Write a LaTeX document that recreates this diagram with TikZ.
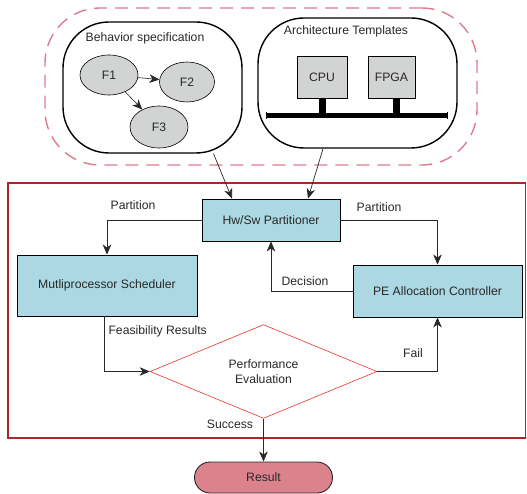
\documentclass[tikz,border=0pt]{standalone}
\usepackage{fontspec}
\setmainfont{Liberation Sans}
\usetikzlibrary{shapes.geometric,arrows.meta,calc}
\definecolor{procblue}{RGB}{172,216,228}
\definecolor{unitgrey}{RGB}{210,211,211}
\definecolor{dashpink}{RGB}{222,122,140}
\definecolor{framered}{RGB}{172,38,42}
\definecolor{resultpink}{RGB}{220,130,140}
\definecolor{diamred}{RGB}{235,50,40}
\definecolor{inkgrey}{RGB}{40,40,40}
\tikzset{
  txt/.style={font=\fontsize{12.2}{14}\selectfont, text=inkgrey},
  blob/.style={draw, line width=1.4pt, rounded corners=46pt, inner sep=0pt},
  fn/.style={ellipse, draw, fill=unitgrey, line width=0.6pt, inner sep=0pt, txt},
  unitbox/.style={draw, fill=unitgrey, line width=0.8pt, inner sep=0pt, txt},
  procbox/.style={draw, fill=procblue, line width=0.9pt, inner sep=0pt, txt},
  link/.style={line width=0.7pt, draw=inkgrey, -{Stealth[length=10pt,width=8.5pt,inset=3pt]}},
}
\begin{document}
\begin{tikzpicture}[x=1pt,y=-1pt]
\useasboundingbox (0,0) rectangle (527,494);

% inputs: behaviour and architecture
\node[draw=dashpink, dashed, dash pattern=on 13pt off 8pt, line width=1.4pt,
      rounded corners=55pt, minimum width=432pt, minimum height=157pt] (inputs) at (261,86.5) {};
\node[blob, minimum width=179pt, minimum height=131pt] (beh) at (152.5,87.5) {};
\node[blob, minimum width=199pt, minimum height=130pt] (arch) at (357.5,83) {};
\node[txt] (behtitle) at (145,38) {Behavior specification};
\node[txt] (archtitle) at (346,31) {Architecture Templates};

% task graph
\node[fn, minimum width=58pt, minimum height=40pt] (f1) at (109,75) {F1};
\node[fn, minimum width=55pt, minimum height=40pt] (f2) at (187,82) {F2};
\node[fn, minimum width=58pt, minimum height=42pt] (f3) at (159,127) {F3};
\draw[link, line width=0.6pt] (f1) -- (f2);
\draw[link, line width=0.6pt] (f1) -- (f3);

% processing elements on a bus
\node[unitbox, minimum width=50pt, minimum height=42pt] (cpu) at (322,77) {CPU};
\node[unitbox, minimum width=47pt, minimum height=42pt] (fpga) at (391.5,77) {FPGA};
\coordinate (busl) at (266,115.5);
\coordinate (busr) at (447,115.5);
\draw[line width=5pt] (busl) -- (busr);
\draw[line width=1pt] ($(busl)+(0,-3.5)$) -- ($(busl)+(0,3.5)$);
\draw[line width=1pt] ($(busr)+(0,-3.5)$) -- ($(busr)+(0,3.5)$);
\fill ($(cpu.south)+(-3.5,0)$) rectangle ($(cpu.south)+(3.5,15)$);
\fill ($(fpga.south)+(1.5,0)$) rectangle ($(fpga.south)+(8,15)$);

% design loop frame
\draw[framered, line width=1.4pt] (8,183) rectangle (525.5,438);

\node[procbox, minimum width=138pt, minimum height=42pt] (hw) at (271,220) {Hw/Sw Partitioner};
\node[procbox, minimum width=180pt, minimum height=61pt] (sched) at (107,285.5) {Mutliprocessor Scheduler};
\node[procbox, minimum width=169pt, minimum height=52pt] (pe) at (437.5,291) {PE Allocation Controller};
\node[diamond, draw=diamred, line width=0.6pt, minimum width=227pt, minimum height=93pt,
      inner sep=0pt, txt, align=center] (perf) at (263.5,371.5) {Performance\\[1pt]Evaluation};
\node[draw=inkgrey, line width=0.9pt, fill=resultpink, rounded corners=15.5pt,
      minimum width=138pt, minimum height=31pt, inner sep=0pt, txt] (res) at (263.5,477.5) {Result};

% inputs into the partitioner
\draw[link] ($(beh.south)+(61,0)$) -- ($(hw.north)+(-39,0)$);
\draw[link] ($(arch.south)+(-34.5,0)$) -- ($(hw.north)+(37,0)$);

% loop connectors
\draw[link] (hw.west) -| (sched.north);
\draw[link] (hw.east) -| (pe.north);
\draw[link] (pe.west) -| (hw.south);
\draw[link] ($(sched.south)+(-3,0)$) |- (perf.west);
\draw[link] (perf.east) -| (pe.south);
\draw[link] (perf.south) -- (res.north);

% connector labels
\node[txt] (lpartl) at (133,205) {Partition};
\node[txt] (lpartr) at (379,207) {Partition};
\node[txt] (ldec) at (305,281) {Decision};
\node[txt, anchor=west] (lfeas) at (105,331) {Feasibility Results};
\node[txt] (lfail) at (413,353) {Fail};
\node[txt] (lsucc) at (230,424) {Success};
\end{tikzpicture}
\end{document}
